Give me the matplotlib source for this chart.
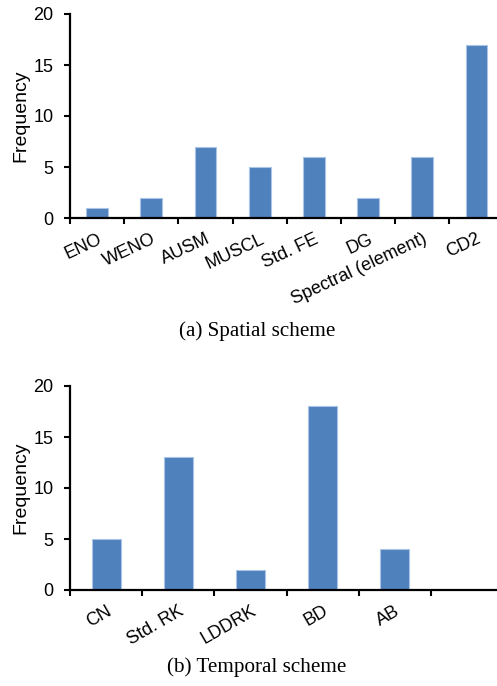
import matplotlib
matplotlib.use("Agg")
import matplotlib.pyplot as plt
import numpy as np

spatial_labels = ["ENO", "WENO", "AUSM", "MUSCL", "Std. FE", "DG", "Spectral (element)", "CD2"]
spatial_values = [1, 2, 7, 5, 6, 2, 6, 17]

temporal_labels = ["CN", "Std. RK", "LDDRK", "BD", "AB", ""]
temporal_values = [5, 13, 2, 18, 4, 0]

yticks = [0, 5, 10, 15, 20]

BAR = "#4F81BD"
EDGE = "#A9C4E4"
SANS = ["Liberation Sans", "DejaVu Sans"]
SERIF = ["Liberation Serif", "DejaVu Serif"]

W, H = 497, 686
fig = plt.figure(figsize=(W / 100, H / 100), dpi=100)


def make(ax, labels, values, rot, caption, cap_y):
    n = len(labels)
    x = np.arange(n)
    ax.bar(x, values, width=0.4, color=BAR, edgecolor=EDGE, linewidth=0.8, zorder=2)
    ax.set_xlim(-0.5, n - 0.5)
    ax.set_ylim(0, 20)
    ax.set_yticks(yticks)
    ax.set_yticklabels([str(v) for v in yticks], family=SANS, fontsize=13)
    ax.set_xticks(np.arange(n + 1) - 0.5)
    ax.set_xticklabels([])
    ax.set_xticks(x, minor=True)
    ax.set_xticklabels(labels, minor=True, rotation=rot, ha="right", va="top",
                       rotation_mode="anchor", family=SANS, fontsize=13)
    ax.tick_params(axis="x", which="minor", length=0, pad=9)
    ax.tick_params(axis="both", which="major", direction="out", length=4, width=1.5, color="black")
    ax.tick_params(axis="y", pad=8)
    for s in ["top", "right"]:
        ax.spines[s].set_visible(False)
    for s in ["left", "bottom"]:
        ax.spines[s].set_linewidth(1.6)
        ax.spines[s].set_color("black")
    ax.set_ylabel("Frequency", family=SANS, fontsize=14, labelpad=3)
    fig.text(257 / W, 1 - cap_y / H, caption, ha="center", va="center",
             family=SERIF, fontsize=15.2)


ax1 = fig.add_axes([70 / W, 1 - 218 / H, 433.6 / W, 204 / H])
make(ax1, spatial_labels, spatial_values, 25, "(a) Spatial scheme", 331)

ax2 = fig.add_axes([70 / W, 1 - 590 / H, 433 / W, 204 / H])
make(ax2, temporal_labels, temporal_values, 30, "(b) Temporal scheme", 667)

fig.savefig("out.png", dpi=100)
